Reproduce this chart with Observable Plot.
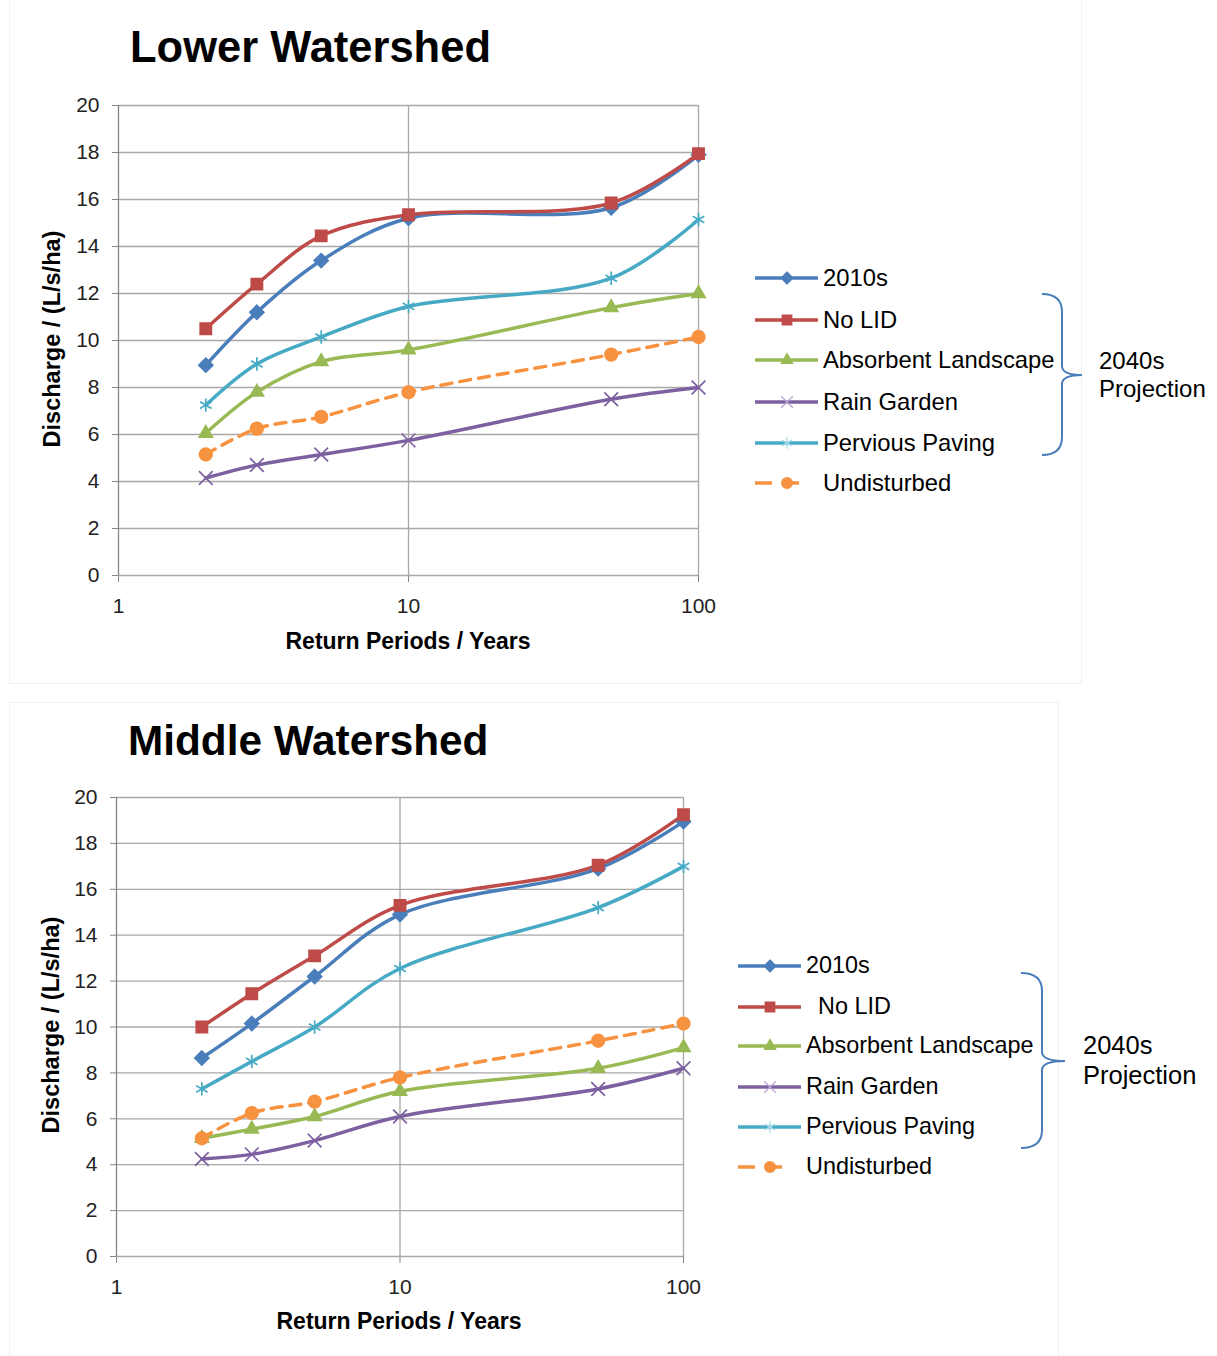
<!DOCTYPE html>
<html><head><meta charset="utf-8">
<script src="https://cdn.jsdelivr.net/npm/d3@7"></script>
<script src="https://cdn.jsdelivr.net/npm/@observablehq/plot@0.6"></script>
<style>
body{margin:0;background:#fff;font-family:"Liberation Sans",Arial,sans-serif;color:#000;}
#page{position:relative;width:1217px;height:1356px;overflow:hidden;background:#fff;}
.abs{position:absolute;white-space:nowrap;line-height:1;}
.title{font-weight:bold;font-size:43.5px;transform:translateY(-50%);}
.axt{font-weight:bold;font-size:23px;transform:translate(-50%,-50%);}
.axty{font-weight:bold;font-size:23.5px;transform:translate(-50%,-50%) rotate(-90deg);}
.leg{font-size:23.7px;transform:translateY(-50%);}
.proj{font-size:24px;transform:translateY(-50%);}
.panel{position:absolute;border:1px solid #f0f0f0;}
g[aria-label="x-axis"] line, g[aria-label="y-axis"] line,
g[aria-label="x-axis tick"] path, g[aria-label="y-axis tick"] path{stroke:#868686;}
g[aria-label="x-axis"] path.domain, g[aria-label="y-axis"] path.domain{display:none;}
g[aria-label="x-axis"] text, g[aria-label="y-axis"] text,
g[aria-label="x-axis tick label"] text, g[aria-label="y-axis tick label"] text{fill:#222;}
</style>
</head><body>
<div id="page"></div>
<script>
// ---- data ----
const periods = [2, 3, 5, 10, 50, 100];
const seriesNames = ["2010s", "No LID", "Absorbent Landscape", "Rain Garden", "Pervious Paving", "Undisturbed"];
const seriesColors = ["#4a7ebb", "#be4b48", "#98b954", "#7d60a0", "#46aac5", "#f69240"];
const seriesSymbols = ["diamond2", "square", "triangle2", "times", "asterisk", "circle"];
const xTicks = [1, 10, 100];
const yTicks = [0, 2, 4, 6, 8, 10, 12, 14, 16, 18, 20];

// Lower Watershed
const lower2010s      = [8.95, 11.2, 13.4, 15.2, 15.65, 17.9];
const lowerNoLID      = [10.5, 12.4, 14.45, 15.35, 15.85, 17.95];
const lowerAbsorbent  = [6.05, 7.8, 9.1, 9.6, 11.4, 12.0];
const lowerRainGarden = [4.15, 4.7, 5.15, 5.75, 7.5, 8.0];
const lowerPervious   = [7.25, 9.0, 10.15, 11.45, 12.65, 15.15];
const lowerUndisturbed= [5.15, 6.25, 6.75, 7.8, 9.4, 10.15];

// Middle Watershed
const middle2010s      = [8.65, 10.15, 12.2, 14.9, 16.9, 18.95];
const middleNoLID      = [10.0, 11.45, 13.1, 15.3, 17.05, 19.25];
const middleAbsorbent  = [5.15, 5.55, 6.1, 7.2, 8.2, 9.1];
const middleRainGarden = [4.25, 4.45, 5.05, 6.1, 7.3, 8.2];
const middlePervious   = [7.3, 8.5, 10.0, 12.55, 15.2, 17.0];
const middleUndisturbed= [5.15, 6.25, 6.75, 7.8, 9.4, 10.15];

const lowerSeries = [lower2010s, lowerNoLID, lowerAbsorbent, lowerRainGarden, lowerPervious, lowerUndisturbed];
const middleSeries = [middle2010s, middleNoLID, middleAbsorbent, middleRainGarden, middlePervious, middleUndisturbed];

const page = document.getElementById("page");
function addDiv(cls, text, left, top) {
  const d = document.createElement("div");
  d.className = "abs " + cls;
  d.textContent = text;
  d.style.left = left + "px";
  d.style.top = top + "px";
  page.appendChild(d);
  return d;
}

function makeChart(series, o) {
  const rows = [];
  seriesNames.forEach((name, i) => series[i].forEach((v, j) => rows.push({series: name, period: periods[j], value: v})));
  const solid = rows.filter(d => d.series !== "Undisturbed");
  const dashed = rows.filter(d => d.series === "Undisturbed");
  const p = Plot.plot({
    width: o.width, height: o.height,
    marginLeft: o.ml, marginRight: o.mr, marginTop: o.mt, marginBottom: o.mb,
    style: {fontFamily: '"Liberation Sans", Arial, sans-serif', fontSize: "21px", background: "transparent", color: "#222", overflow: "visible"},
    x: {type: "log", domain: [1, 100], ticks: xTicks, tickFormat: d => String(d), tickSize: 7, tickPadding: 16, label: null},
    y: {domain: [0, 20], ticks: yTicks, tickSize: 6, tickPadding: 13, label: null},
    color: {domain: seriesNames, range: seriesColors},
    symbol: {domain: seriesNames, range: seriesSymbols},
    marks: [
      Plot.ruleY(yTicks, {stroke: "#a8a8a8", strokeWidth: 1.3}),
      Plot.ruleX([10, 100], {stroke: "#a8a8a8", strokeWidth: 1.3}),
      Plot.ruleX([1], {stroke: "#868686", strokeWidth: 1.3}),
      Plot.line(solid, {x: "period", y: "value", z: "series", stroke: "series", strokeWidth: 3.5, curve: "catmull-rom"}),
      Plot.line(dashed, {x: "period", y: "value", z: "series", stroke: "series", strokeWidth: 3.5, strokeDasharray: "11,8", curve: "catmull-rom"}),
      Plot.dot(rows, {x: "period", y: "value", symbol: "series", fill: "series", stroke: "series", r: 6.3, strokeWidth: 1.7})
    ]
  });
  p.style.position = "absolute";
  p.style.left = o.left + "px";
  p.style.top = o.top + "px";
  page.appendChild(p);
}

function makeLegend(o) {
  const svg = d3.select(page).append("svg")
    .style("position", "absolute").style("left", "0px").style("top", "0px")
    .attr("width", 1217).attr("height", 1356).style("pointer-events", "none");
  seriesNames.forEach((name, i) => {
    const y = o.rows[i];
    const g = svg.append("g").attr("transform", `translate(${o.x},${y})`);
    const c = seriesColors[i];
    if (name === "Undisturbed") {
      g.append("line").attr("x1", 0).attr("x2", 48).attr("y1", 0).attr("y2", 0)
        .attr("stroke", c).attr("stroke-width", 3.5).attr("stroke-dasharray", "17,10");
    } else {
      g.append("line").attr("x1", 0).attr("x2", 63).attr("y1", 0).attr("y2", 0)
        .attr("stroke", c).attr("stroke-width", 3.5);
    }
    const symMap = {diamond2: d3.symbolDiamond2, square: d3.symbolSquare, triangle2: d3.symbolTriangle2,
      times: d3.symbolTimes, asterisk: d3.symbolAsterisk, circle: d3.symbolCircle};
    const s = seriesSymbols[i];
    const filled = !(s === "times" || s === "asterisk");
    g.append("path").attr("transform", `translate(32,0)`)
      .attr("d", d3.symbol(symMap[s], 90)())
      .attr("fill", filled ? c : "none").attr("stroke", filled ? c : (s === "times" ? "#b9a6d3" : "#a5dbe8"))
      .attr("stroke-width", 1.3);
    const d = addDiv("leg", name, name === "No LID" ? o.textX + o.noLidShift : o.textX, y);
    d.style.fontSize = o.legSize + "px";
  });
  // brace
  const b = o.brace;
  const r = 18;
  const path = `M${b.x0},${b.top} Q${b.x1},${b.top} ${b.x1},${b.top + r}
    L${b.x1},${b.mid - r * 0.5} Q${b.x1},${b.mid} ${b.tip},${b.mid}
    Q${b.x1},${b.mid} ${b.x1},${b.mid + r * 0.5}
    L${b.x1},${b.bottom - r} Q${b.x1},${b.bottom} ${b.x0},${b.bottom}`;
  svg.append("path").attr("d", path).attr("fill", "none").attr("stroke", "#4a7ebb").attr("stroke-width", 2);
  addDiv("proj", "2040s", o.projX, o.projY1).style.fontSize = o.projSize + "px";
  addDiv("proj", "Projection", o.projX, o.projY2).style.fontSize = o.projSize + "px";
}

// panels (faint frames)
const p1 = document.createElement("div"); p1.className = "panel";
Object.assign(p1.style, {left: "9px", top: "-2px", width: "1071px", height: "684px"}); page.appendChild(p1);
const p2 = document.createElement("div"); p2.className = "panel";
Object.assign(p2.style, {left: "9px", top: "702px", width: "1048px", height: "660px"}); page.appendChild(p2);

// Lower Watershed
addDiv("title", "Lower Watershed", 130, 48);
makeChart(lowerSeries, {left: 0, top: 90, width: 740, height: 580, ml: 118, mr: 42, mt: 15, mb: 95});
addDiv("axt", "Return Periods / Years", 408, 641);
addDiv("axty", "Discharge / (L/s/ha)", 53, 339);
makeLegend({x: 755, textX: 823, noLidShift: 0, legSize: 23.8, rows: [278, 320, 360, 402, 443, 483],
  brace: {x0: 1042, x1: 1062, tip: 1082, top: 294, mid: 375, bottom: 455},
  projX: 1099, projY1: 361, projY2: 389, projSize: 24});

// Middle Watershed
addDiv("title", "Middle Watershed", 128, 741).style.fontSize = "42.3px";
makeChart(middleSeries, {left: 0, top: 780, width: 725, height: 571, ml: 116, mr: 42, mt: 17, mb: 95});
addDiv("axt", "Return Periods / Years", 399, 1321);
addDiv("axty", "Discharge / (L/s/ha)", 52, 1025);
makeLegend({x: 738, textX: 806, noLidShift: 12, legSize: 23.4, rows: [966, 1007, 1046, 1087, 1127, 1167],
  brace: {x0: 1021, x1: 1042, tip: 1065, top: 973, mid: 1061, bottom: 1148},
  projX: 1083, projY1: 1046, projY2: 1076, projSize: 25.5});
</script>
</body></html>
